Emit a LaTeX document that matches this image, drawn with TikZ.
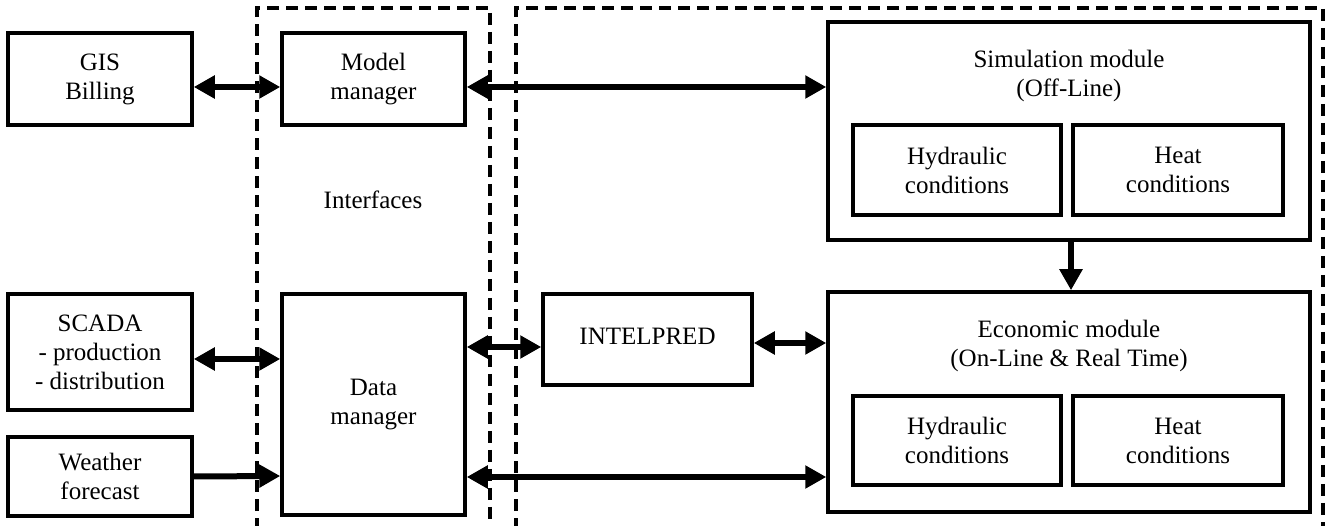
\documentclass[tikz,border=0pt]{standalone}
\usepackage{fontspec}
\setmainfont{Liberation Serif}
\usetikzlibrary{arrows.meta}
\tikzset{
  blk/.style={draw=black, line width=3.5pt, minimum width=#1, inner sep=0pt, align=center, font=\fontsize{25}{29}\selectfont},
  dbox/.style={draw=black, line width=3.2pt, dash pattern=on 12pt off 7pt},
  arr/.style={line width=6pt, -{Triangle[length=21pt,width=22pt]}},
  darr/.style={line width=6pt, {Triangle[length=21pt,width=22pt]}-{Triangle[length=21pt,width=22pt]}},
  lbl/.style={align=center, inner sep=0pt, font=\fontsize{25}{29}\selectfont}
}
\begin{document}
\begin{tikzpicture}[x=1pt,y=-1pt]
\useasboundingbox (0,0) rectangle (1326,526);
% dashed groups
\draw[dbox] (257,530) -- (257,8) -- (490,8) -- (490,530);
\draw[dbox] (516,530) -- (516,8) -- (1323,8) -- (1323,530);
\node[lbl] (iface) at (373,200) {Interfaces};
% left boxes
\node[blk=184pt, minimum height=92pt] (gis) at (100,79) {GIS\\Billing};
\node[blk=184pt, minimum height=116pt] (scada) at (100,352) {SCADA\\- production\\- distribution};
\node[blk=184pt, minimum height=79pt] (weather) at (100,476.5) {Weather\\forecast};
% interfaces
\node[blk=183pt, minimum height=92pt] (model) at (373.5,79) {Model\\manager};
\node[blk=183pt, minimum height=221pt] (data) at (373.5,404.5) {Data\\manager};
% intelpred
\node[blk=209pt, minimum height=91pt] (intel) at (647.5,339.5) {};
\node[lbl] (inteltxt) at (647.5,336) {INTELPRED};
% simulation module
\node[blk=482pt, minimum height=218pt] (sim) at (1069,131) {};
\node[lbl] (simtxt) at (1069,76) {Simulation module\\(Off-Line)};
\node[blk=208pt, minimum height=90pt] (hyd1) at (957,170) {Hydraulic\\conditions};
\node[blk=210pt, minimum height=90pt] (heat1) at (1178,170) {Heat\\conditions};
% economic module
\node[blk=482pt, minimum height=220pt] (econ) at (1069,402) {};
\node[lbl] (econtxt) at (1069,346) {Economic module\\(On-Line \& Real Time)};
\node[blk=208pt, minimum height=89pt] (hyd2) at (957,440.5) {Hydraulic\\conditions};
\node[blk=210pt, minimum height=89pt] (heat2) at (1178,440.5) {Heat\\conditions};
% connectors
\draw[darr] ([yshift=-8pt]gis.east) -- ([yshift=-8pt]model.west);
\draw[darr] ([yshift=-8pt]model.east) -- ([yshift=44pt]sim.west);
\draw[darr] ([yshift=-7pt]scada.east) -- ([yshift=45.5pt]data.west);
\draw[arr] (weather.east) -- ([yshift=-71.5pt]data.west);
\draw[darr] ([yshift=57.5pt]data.east) -- ([yshift=-7.5pt]intel.west);
\draw[darr] ([yshift=-3.5pt]intel.east) -- ([yshift=59pt]econ.west);
\draw[darr] ([yshift=-72.5pt]data.east) -- ([yshift=-75pt]econ.west);
\draw[arr] ([xshift=2pt]sim.south) -- ([xshift=2pt]econ.north);
\end{tikzpicture}
\end{document}
